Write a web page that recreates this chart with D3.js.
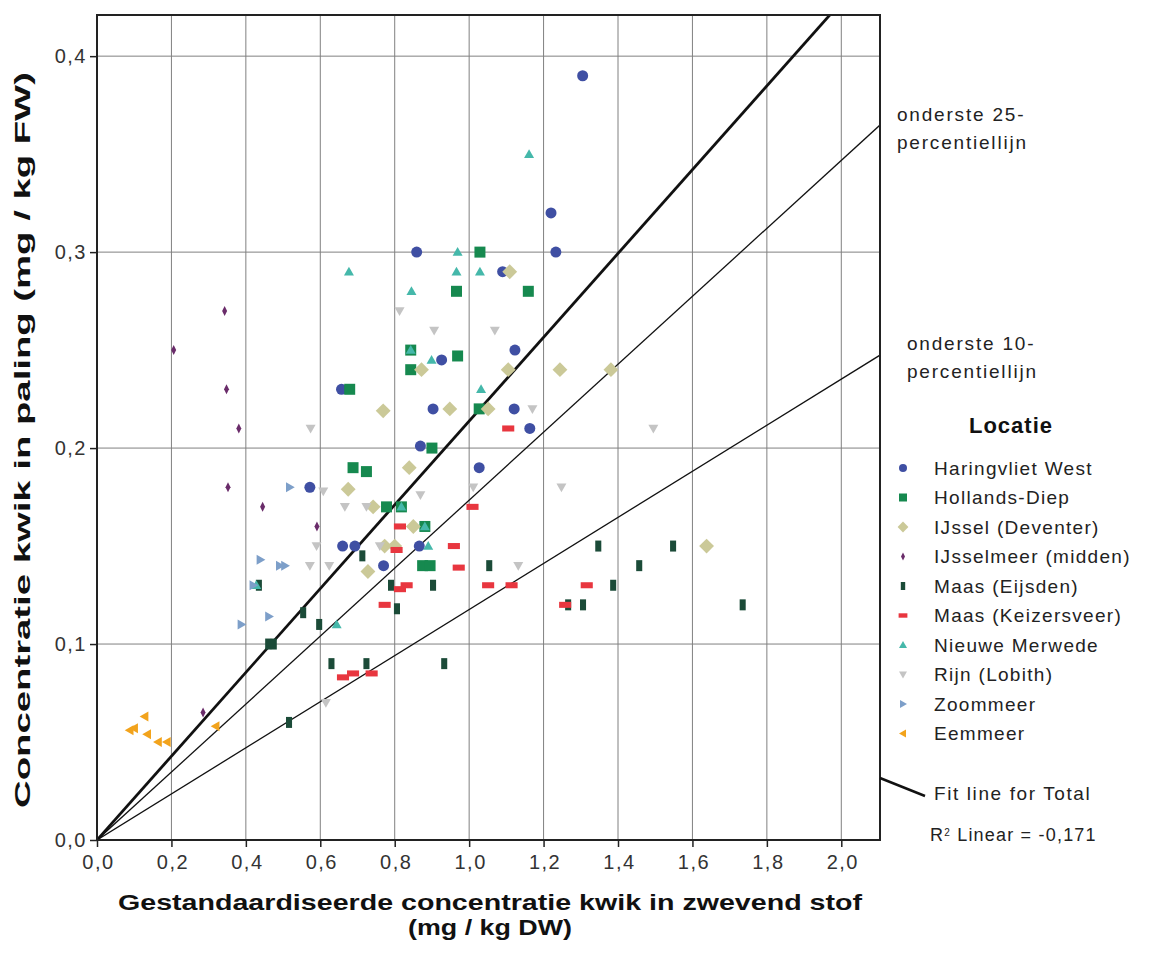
<!DOCTYPE html>
<html>
<head>
<meta charset="utf-8">
<script src="https://cdn.jsdelivr.net/npm/d3@7"></script>
<style>
  body { margin: 0; background: #fff; }
  svg { font-family: "Liberation Sans", Arial, sans-serif; }
</style>
</head>
<body>
<div id="svg"></div>
<script>
// waarden
const locaties = ["Haringvliet West", "Hollands-Diep", "IJssel (Deventer)", "IJsselmeer (midden)",
  "Maas (Eijsden)", "Maas (Keizersveer)", "Nieuwe Merwede", "Rijn (Lobith)", "Zoommeer", "Eemmeer"];
const kleuren = ["#3f4fa3", "#16894f", "#cbc998", "#6a2c6a", "#1b4b38", "#e8363f", "#45b8aa", "#c4c4c4", "#7d9fc9", "#f2a31c"];
const vormen = ["circle", "square", "diamond", "thin", "vrect", "hrect", "up", "down", "right", "left"];

const haringvliet = [[1.305,0.39],[1.22,0.32],[0.859,0.30],[1.233,0.30],[0.657,0.23],[0.572,0.18],[0.66,0.15],[0.693,0.15],
  [0.77,0.14],[1.123,0.25],[0.926,0.245],[0.903,0.22],[1.121,0.22],[1.163,0.21],[0.869,0.201],[1.027,0.19],[0.866,0.15],[1.09,0.29]];
const hollandsDiep = [[1.029,0.30],[0.966,0.28],[1.159,0.28],[0.679,0.23],[0.688,0.19],[0.724,0.188],[0.843,0.25],[0.969,0.247],
  [0.843,0.24],[1.027,0.22],[0.90,0.20],[0.778,0.17],[0.818,0.17],[0.881,0.16],[0.875,0.14],[0.895,0.14]];
const ijssel = [[1.109,0.29],[1.244,0.24],[1.381,0.24],[1.105,0.24],[0.872,0.24],[0.948,0.22],[0.769,0.219],[1.051,0.22],
  [0.839,0.19],[0.675,0.179],[0.742,0.17],[0.728,0.137],[0.85,0.16],[0.773,0.15],[1.638,0.15],[0.80,0.15]];
const ijsselmeer = [[0.343,0.27],[0.206,0.25],[0.348,0.23],[0.381,0.21],[0.352,0.18],[0.445,0.17],[0.591,0.16],[0.285,0.065]];
const maasEijsden = [[0.554,0.116],[0.597,0.11],[0.46,0.10],[0.475,0.10],[0.435,0.13],[0.63,0.09],[0.724,0.09],[0.516,0.06],
  [0.79,0.13],[0.903,0.13],[0.806,0.118],[1.054,0.14],[0.933,0.09],[1.387,0.13],[1.457,0.14],[1.306,0.12],[1.266,0.12],
  [1.347,0.15],[1.548,0.15],[1.735,0.12],[0.713,0.145]];
const maasKeizersveer = [[1.105,0.21],[1.009,0.17],[0.814,0.16],[0.805,0.148],[0.959,0.15],[0.972,0.139],[0.832,0.13],
  [0.814,0.128],[0.773,0.12],[1.051,0.13],[1.114,0.13],[1.316,0.13],[1.258,0.12],[0.661,0.083],[0.688,0.085],[0.738,0.085]];
const nieuweMerwede = [[1.161,0.35],[0.969,0.30],[0.966,0.29],[1.029,0.29],[0.845,0.28],[0.677,0.29],[0.899,0.245],[1.032,0.23],
  [0.843,0.25],[0.89,0.15],[0.881,0.16],[0.818,0.17],[0.428,0.13],[0.644,0.11]];
const rijn = [[0.813,0.27],[0.906,0.26],[1.069,0.26],[1.17,0.22],[1.495,0.21],[1.248,0.18],[0.869,0.176],[1.011,0.18],[1.132,0.14],
  [0.574,0.21],[0.608,0.178],[0.666,0.17],[0.724,0.17],[0.59,0.15],[0.76,0.15],[0.572,0.14],[0.624,0.14],[0.615,0.07]];
const zoommeer = [[0.518,0.18],[0.439,0.143],[0.491,0.14],[0.505,0.14],[0.462,0.114],[0.388,0.11],[0.42,0.13]];
const eemmeer = [[0.128,0.063],[0.088,0.056],[0.135,0.054],[0.164,0.05],[0.188,0.05],[0.319,0.058],[0.10,0.057]];
const reeksen = [haringvliet, hollandsDiep, ijssel, ijsselmeer, maasEijsden, maasKeizersveer, nieuweMerwede, rijn, zoommeer, eemmeer];

// hellingen van de lijnen door de oorsprong
const fitHelling = 0.2138;
const p25Helling = 0.1734;
const p10Helling = 0.1176;

const xTicks = [0, 0.2, 0.4, 0.6, 0.8, 1.0, 1.2, 1.4, 1.6, 1.8, 2.0];
const yTicks = [0, 0.1, 0.2, 0.3, 0.4];

const width = 1161, height = 964;
const plot = { left: 97, top: 15, right: 880, bottom: 840 };

const svg = d3.select("#svg").append("svg")
  .attr("width", width).attr("height", height);

const x = d3.scaleLinear().domain([0, 2.104]).range([plot.left, plot.right]);
const y = d3.scaleLinear().domain([0, 0.421]).range([plot.bottom, plot.top]);
const komma = (d) => d3.format(".1f")(d).replace(".", ",");

// rasterlijnen
svg.append("g").selectAll("line").data(xTicks.slice(1)).join("line")
  .attr("x1", (d) => x(d)).attr("x2", (d) => x(d))
  .attr("y1", plot.top).attr("y2", plot.bottom)
  .attr("stroke", "#808080").attr("stroke-width", 1);
svg.append("g").selectAll("line").data(yTicks.slice(1)).join("line")
  .attr("x1", plot.left).attr("x2", plot.right)
  .attr("y1", (d) => y(d)).attr("y2", (d) => y(d))
  .attr("stroke", "#808080").attr("stroke-width", 1);

// assen
const xAxis = svg.append("g").attr("transform", `translate(0,${plot.bottom})`)
  .call(d3.axisBottom(x).tickValues(xTicks).tickFormat(komma).tickSize(7).tickSizeOuter(0));
const yAxis = svg.append("g").attr("transform", `translate(${plot.left},0)`)
  .call(d3.axisLeft(y).tickValues(yTicks).tickFormat(komma).tickSize(7).tickSizeOuter(0));
[xAxis, yAxis].forEach((a) => {
  a.attr("font-size", 20).attr("font-family", "'Liberation Sans', Arial, sans-serif");
  a.select(".domain").remove();
  a.selectAll(".tick line").attr("stroke", "#222").attr("stroke-width", 1.5);
  a.selectAll(".tick text").attr("fill", "#333").attr("font-size", 20).attr("letter-spacing", 1.5);
});
xAxis.selectAll(".tick text").attr("dy", "0.95em").attr("dx", "1px");
yAxis.selectAll(".tick text").attr("dx", "0");

// lijnen door oorsprong
svg.append("clipPath").attr("id", "clip").append("rect")
  .attr("x", plot.left).attr("y", plot.top)
  .attr("width", plot.right - plot.left).attr("height", plot.bottom - plot.top);
const lijnen = svg.append("g").attr("clip-path", "url(#clip)");
[[p10Helling, 1.3], [p25Helling, 1.3], [fitHelling, 2.8]].forEach(([h, w]) => {
  lijnen.append("line")
    .attr("x1", x(0)).attr("y1", y(0))
    .attr("x2", x(2.104)).attr("y2", y(2.104 * h))
    .attr("stroke", "#111").attr("stroke-width", w);
});

// vormen van de markers
const vorm = (soort, s) => {
  switch (soort) {
    case "circle": return d3.symbol(d3.symbolCircle, Math.PI * s * s)();
    case "square": return `M${-s},${-s}H${s}V${s}H${-s}Z`;
    case "diamond": { const r = s * 1.35; return `M0,${-r}L${r},0L0,${r}L${-r},0Z`; }
    case "thin": return `M0,${-s}L${s * 0.5},0L0,${s}L${-s * 0.5},0Z`;
    case "vrect": return `M${-s * 0.55},${-s}H${s * 0.55}V${s}H${-s * 0.55}Z`;
    case "hrect": return `M${-s * 1.1},${-s * 0.55}H${s * 1.1}V${s * 0.55}H${-s * 1.1}Z`;
    case "up": return `M0,${-s}L${s},${s * 0.75}L${-s},${s * 0.75}Z`;
    case "down": return `M0,${s}L${s},${-s * 0.75}L${-s},${-s * 0.75}Z`;
    case "right": return `M${s},0L${-s * 0.75},${s}L${-s * 0.75},${-s}Z`;
    case "left": return `M${-s},0L${s * 0.75},${s}L${s * 0.75},${-s}Z`;
  }
};
const grootte = [5.5, 5.5, 5.5, 5, 5.5, 5.5, 5, 5, 5, 5];

const punten = svg.append("g");
reeksen.forEach((reeks, i) => {
  punten.append("g").selectAll("path").data(reeks).join("path")
    .attr("transform", (d) => `translate(${x(d[0])},${y(d[1])})`)
    .attr("d", vorm(vormen[i], grootte[i]))
    .attr("fill", kleuren[i]);
});

// kader
svg.append("rect")
  .attr("x", plot.left).attr("y", plot.top)
  .attr("width", plot.right - plot.left).attr("height", plot.bottom - plot.top)
  .attr("fill", "none").attr("stroke", "#222").attr("stroke-width", 2);

// aslabels
const titel = (tx, ty, tekst, lengte, rot) => svg.append("text")
  .attr("transform", `translate(${tx},${ty})` + (rot ? " rotate(-90)" : ""))
  .attr("text-anchor", "middle")
  .attr("textLength", lengte).attr("lengthAdjust", "spacingAndGlyphs")
  .style("font-size", "22px").style("font-weight", "bold").attr("fill", "#111")
  .text(tekst);
titel(490, 910, "Gestandaardiseerde concentratie kwik in zwevend stof", 744);
titel(490, 935, "(mg / kg DW)", 164);
titel(30, 440, "Concentratie kwik in paling (mg / kg FW)", 736, true);

// labels bij percentiellijnen
const lijnLabels = [["onderste 25-", 897, 121], ["percentiellijn", 897, 149], ["onderste 10-", 907, 350], ["percentiellijn", 907, 378]];
lijnLabels.forEach(([t, lx, ly]) => {
  svg.append("text").attr("x", lx).attr("y", ly)
    .style("font-size", "19px").style("letter-spacing", "1.8px").attr("fill", "#222").text(t);
});

// legenda
svg.append("text").attr("x", 1011).attr("y", 433).attr("text-anchor", "middle")
  .style("font-size", "22px").style("font-weight", "bold").style("letter-spacing", "1px")
  .attr("fill", "#111").text("Locatie");
const legenda = svg.append("g");
locaties.forEach((naam, i) => {
  const ly = 468 + i * 29.5;
  legenda.append("path").attr("transform", `translate(903,${ly})`)
    .attr("d", vorm(vormen[i], 4)).attr("fill", kleuren[i]);
  legenda.append("text").attr("x", 934).attr("y", ly + 6.5)
    .style("font-size", "19px").style("letter-spacing", "1.3px").attr("fill", "#222").text(naam);
});
legenda.append("line").attr("x1", plot.right).attr("y1", 778).attr("x2", 925).attr("y2", 796)
  .attr("stroke", "#111").attr("stroke-width", 2.5);
legenda.append("text").attr("x", 934).attr("y", 800)
  .style("font-size", "19px").style("letter-spacing", "1.6px").attr("fill", "#222").text("Fit line for Total");
const r2 = legenda.append("text").attr("x", 930).attr("y", 841)
  .style("font-size", "18px").style("letter-spacing", "1.2px").attr("fill", "#222");
r2.append("tspan").text("R");
r2.append("tspan").attr("dy", -5).style("font-size", "10px").text("2");
r2.append("tspan").attr("dy", 5).text(" Linear = -0,171");
</script>
</body>
</html>
